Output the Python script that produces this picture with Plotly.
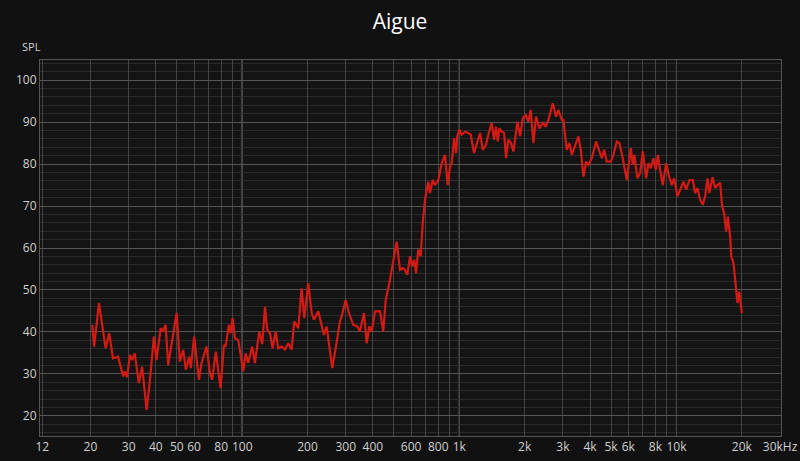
import plotly.graph_objects as go

# Frequency response data
freq_hz = [20.4, 20.8, 21.9, 23.5, 24.4, 25.4, 26.8, 28.3, 28.8, 29.5, 30.4, 31.1, 32.0, 33.4, 34.6,
           36.3, 37.6, 39.2, 40.3, 42.1, 43.0, 44.4, 45.6, 47.8, 49.9, 51.6, 53.5, 55.0, 57.0, 58.0,
           60.1, 63.2, 65.0, 68.5, 71.0, 72.7, 75.6, 79.5, 82.4, 83.8, 86.8, 88.4, 90.3, 92.6, 95.9,
           101.1, 103.7, 106.6, 111.2, 114.4, 119.8, 123.7, 127.3, 130.4, 134.2, 138.1, 142.5, 146.5,
           151.9, 157.3, 162.9, 168.9, 173.6, 181.2, 187.8, 193.1, 201.5, 208.9, 214.0, 224.0, 232.2,
           238.0, 244.8, 259.8, 270.3, 282.0, 287.2, 299.6, 310.2, 324.7, 338.8, 348.6, 363.8, 374.4,
           384.9, 394.8, 408.9, 431.2, 446.5, 458.0, 475.9, 493.4, 514.7, 533.0, 548.6, 562.1, 576.0,
           592.7, 607.4, 620.4, 631.8, 647.4, 664.0, 678.2, 695.0, 719.7, 732.8, 754.1, 772.7, 800.1,
           829.6, 859.2, 884.1, 906.0, 922.6, 945.4, 965.6, 979.0, 1000, 1026, 1062, 1100, 1129, 1169,
           1210, 1246, 1282, 1327, 1360, 1410, 1445, 1476, 1503, 1529, 1568, 1607, 1642, 1682, 1731,
           1774, 1806, 1851, 1905, 1960, 2023, 2080, 2133, 2193, 2257, 2337, 2423, 2502, 2571, 2637,
           2694, 2790, 2859, 2965, 3016, 3125, 3213, 3296, 3413, 3535, 3626, 3727, 3836, 3931, 4075,
           4266, 4418, 4532, 4645, 4776, 4985, 5125, 5312, 5461, 5639, 5907, 6164, 6296, 6404, 6611,
           6803, 7001, 7250, 7430, 7621, 7834, 8038, 8210, 8413, 8656, 8964, 9256, 9524, 9759, 10107,
           10401, 10772, 11084, 11478, 11900, 12195, 12496, 12858, 13233, 13560, 13895, 14193, 14652,
           15077, 15450, 15900, 16241, 16589, 16944, 17252, 17682, 17870, 18311, 18780, 19103, 19450,
           20015]
spl_db = [41.7, 36.5, 46.9, 36.1, 39.7, 33.7, 34.1, 29.4, 30.6, 29.2, 34.5, 33.3, 34.9, 27.8, 31.7,
          21.4, 28.6, 38.9, 33.3, 40.9, 40.1, 41.7, 32.1, 38.1, 44.5, 32.9, 35.7, 31.0, 34.1, 31.4,
          38.9, 28.6, 32.6, 36.5, 30.2, 28.6, 35.3, 26.6, 36.9, 36.5, 41.7, 39.7, 43.3, 38.5, 38.1,
          30.6, 34.9, 32.6, 36.5, 32.6, 40.1, 37.1, 46.0, 40.5, 39.7, 36.1, 40.1, 36.1,
          36.5, 35.8, 37.3, 35.8, 42.5, 40.9, 50.4, 43.3, 51.6, 44.5, 42.9, 44.9, 41.3,
          39.3, 41.3, 31.4, 36.5, 42.5, 43.7, 47.6, 44.5, 41.7, 41.3, 40.1, 44.5, 37.3,
          41.3, 40.1, 44.9, 44.9, 40.1, 47.6, 51.6, 56.4, 61.5, 54.8, 55.2, 54.8, 53.6,
          58.0, 55.6, 57.2, 54.0, 59.6, 58.0, 65.9, 71.5, 75.8, 73.1, 76.2, 75.0, 76.2,
          80.2, 82.2, 75.0, 79.4, 80.2, 86.2, 82.6, 86.6, 88.2, 87.0, 87.7, 87.4, 87.0, 82.6,
          85.4, 87.4, 83.4, 84.6, 87.0, 89.8, 85.8, 88.9, 85.4, 88.5, 87.7, 87.4, 81.4, 85.8, 85.0,
          83.0, 85.8, 90.1, 86.6, 90.9, 91.7, 90.1, 92.9, 85.0, 91.3, 88.5, 89.8, 88.9, 90.5, 92.9,
          94.5, 91.3, 92.9, 90.5, 90.5, 83.4, 85.0, 82.2, 84.2, 86.6, 83.4, 77.0, 80.6, 79.8, 81.4,
          85.4, 83.0, 81.4, 83.4, 80.6, 80.6, 82.2, 85.4, 85.0, 81.8, 76.2, 83.8, 79.8, 82.2, 76.6,
          77.8, 83.0, 76.6, 80.2, 79.0, 81.4, 78.6, 82.2, 78.6, 75.0, 80.2, 77.0, 75.0, 76.6, 72.3,
          73.9, 75.8, 73.9, 76.2, 76.2, 73.1, 74.3, 71.5, 70.3, 72.3, 76.6, 73.1, 76.9,
          74.3, 75.0, 75.5, 69.9, 68.3, 63.9, 67.5, 62.7, 58.0, 56.4, 50.4, 46.9, 49.6,
          44.5]

# Axis ticks
x_grid_vals = ([12] + [m * 10 for m in range(2, 10)] + [m * 100 for m in range(1, 10)]
               + [m * 1000 for m in range(1, 10)] + [10000, 20000, 30000])
x_labels = {12: "12", 20: "20", 30: "30", 40: "40", 50: "50", 60: "60", 80: "80", 100: "100",
            200: "200", 300: "300", 400: "400", 600: "600", 800: "800", 1000: "1k",
            2000: "2k", 3000: "3k", 4000: "4k", 5000: "5k", 6000: "6k", 8000: "8k",
            10000: "10k", 20000: "20k", 30000: "30kHz"}
x_text = [x_labels.get(v, "") for v in x_grid_vals]
decade_lines = [100, 1000, 10000]
y_tick_vals = [20, 30, 40, 50, 60, 70, 80, 90, 100]

fig = go.Figure()
fig.add_trace(go.Scatter(x=freq_hz, y=spl_db, mode="lines",
                         line=dict(color="#d41a14", width=2.2), hoverinfo="skip"))

for v in decade_lines:
    fig.add_shape(type="line", xref="x", yref="paper", x0=v, x1=v, y0=0, y1=1,
                  line=dict(color="#b8b8b8", width=1), layer="between")

fig.update_layout(
    width=800, height=461,
    paper_bgcolor="#111111", plot_bgcolor="#141414",
    margin=dict(l=40, r=19, t=60, b=25, autoexpand=False),
    showlegend=False,
    font=dict(family="Open Sans, Noto Sans, sans-serif", color="#d0d0d0", size=12),
    title=dict(text="Aigue", x=0.5, xanchor="center", y=1 - 22 / 461, yanchor="middle",
               font=dict(size=21, color="#ffffff")),
    xaxis=dict(type="log", range=[1.0687, 4.4816], tickmode="array",
               tickvals=x_grid_vals, ticktext=x_text, showgrid=True, automargin=False,
               gridcolor="#444444", gridwidth=1, zeroline=False,
               showline=True, linecolor="#555555", mirror=True, ticks="",
               tickfont=dict(size=12, color="#d0d0d0")),
    yaxis=dict(range=[15.2, 104.8], tickmode="array", tickvals=y_tick_vals, automargin=False,
               showgrid=True, gridcolor="#555555", gridwidth=1, zeroline=False,
               showline=True, linecolor="#555555", mirror=True, ticks="",
               tickfont=dict(size=12, color="#d0d0d0")),
    annotations=[dict(text="SPL", xref="paper", yref="paper", x=-0.012, y=1.0,
                      xanchor="center", yanchor="bottom", yshift=4, showarrow=False,
                      font=dict(size=11, color="#d0d0d0"))],
)
fig.update_yaxes(minor=dict(dtick=2, tick0=0, showgrid=True, gridcolor="#2a2a2a", gridwidth=1))

fig.write_html(
    "out.html",
    config={"displayModeBar": False, "staticPlot": True},
    post_script="document.body.style.margin='0';document.body.style.overflow='hidden';"
                "document.body.style.background='#111111';",
)
